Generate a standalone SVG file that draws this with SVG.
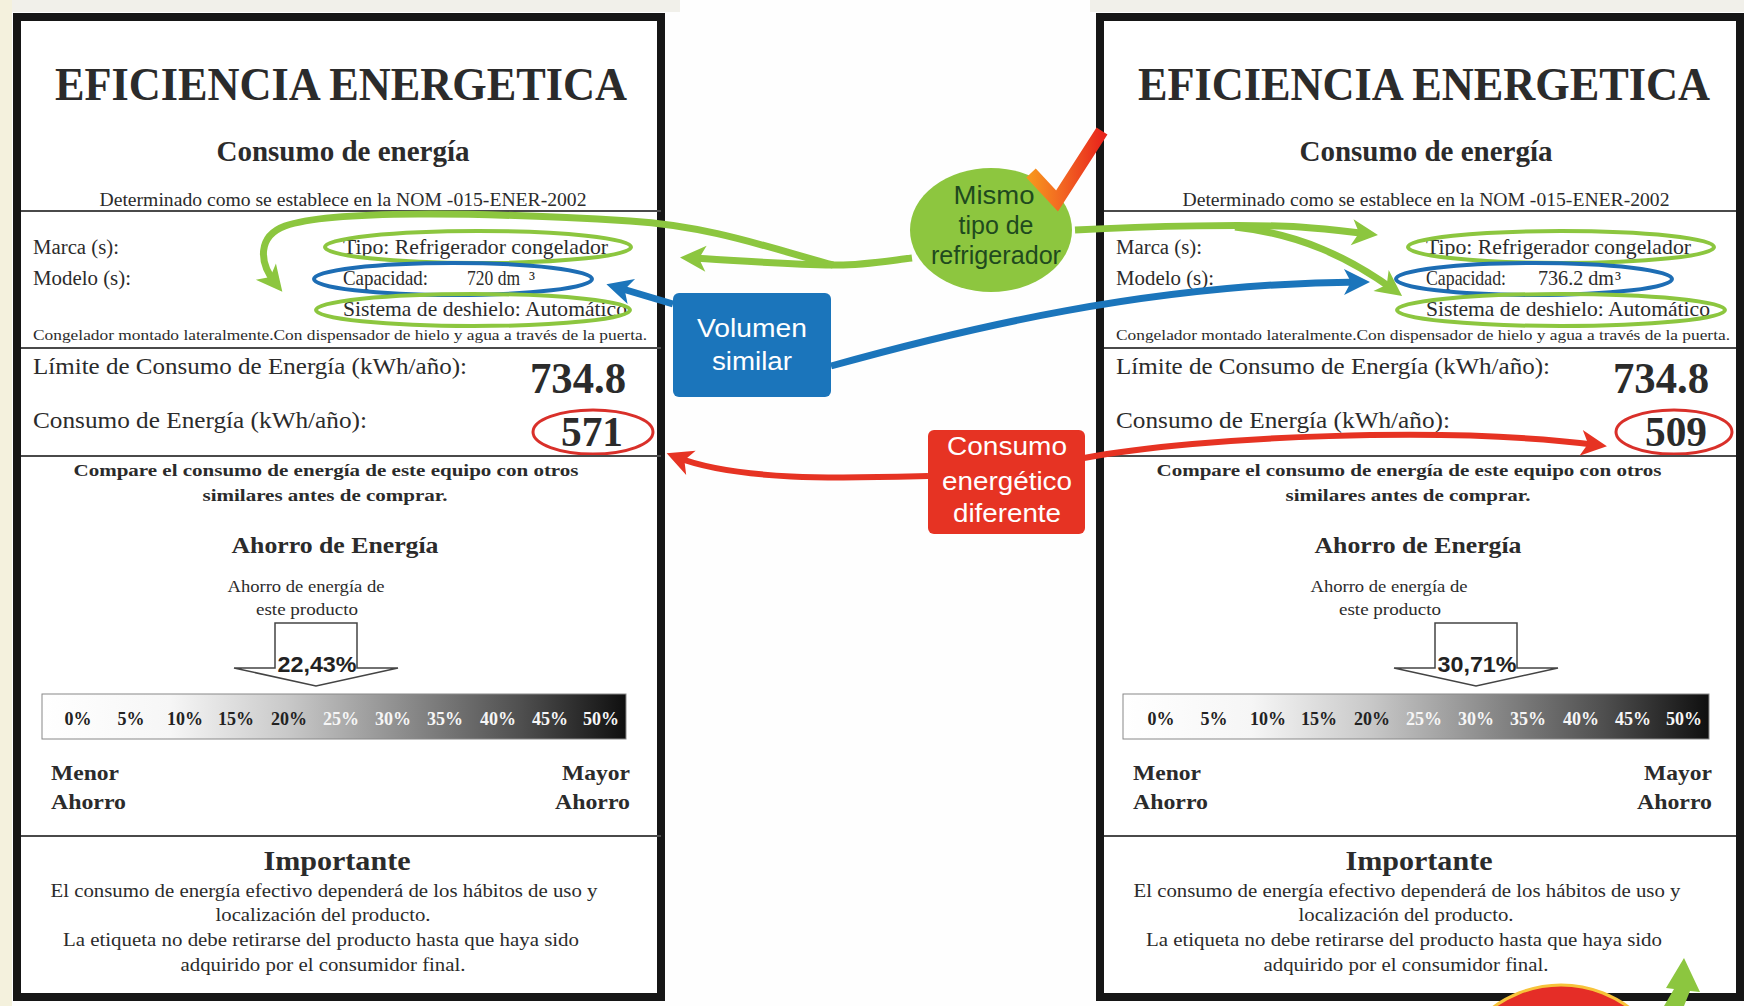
<svg xmlns="http://www.w3.org/2000/svg" width="1744" height="1006" viewBox="0 0 1744 1006">
<defs>
<style>
.frame{fill:#fff;stroke:#161616;stroke-width:8}
.sep{stroke:#4a4a4a;stroke-width:2}
.s{font-family:"Liberation Serif","Times New Roman",serif;fill:#2b2b2b}
.b{font-weight:bold}
.mid{text-anchor:middle}
.end{text-anchor:end}
.pct{font-family:"Liberation Serif","Times New Roman",serif;font-weight:bold;font-size:18px;text-anchor:middle}
.dk{fill:#222}
.wt{fill:#f6f6f6}
.eg{fill:none;stroke:#8cc63f;stroke-width:4}
.eb{fill:none;stroke:#1d6db4;stroke-width:4}
.er{fill:none;stroke:#d9302a;stroke-width:3}
.arrowbox{fill:#fff;stroke:#444;stroke-width:1.5}
.pv{font-family:"Liberation Sans",Arial,sans-serif;font-weight:bold;font-size:22px;fill:#222;text-anchor:middle}
.bar{stroke:#888;stroke-width:1}
.cg{fill:none;stroke:#8cc63f;stroke-width:7}
.cb{fill:none;stroke:#1b75bb;stroke-width:7}
.cr{fill:none;stroke:#e63323;stroke-width:6}
.co{font-family:"Liberation Sans",Arial,sans-serif;font-size:26px;text-anchor:middle}
</style>
<linearGradient id="gradBar" x1="0" y1="0" x2="1" y2="0">
<stop offset="0" stop-color="#ffffff"/>
<stop offset="0.22" stop-color="#f6f6f6"/>
<stop offset="0.42" stop-color="#c9c9c9"/>
<stop offset="0.62" stop-color="#8c8c8c"/>
<stop offset="0.82" stop-color="#4f4f4f"/>
<stop offset="1" stop-color="#0f0f0f"/>
</linearGradient>
<linearGradient id="gradCheck" x1="0" y1="0" x2="1" y2="0">
<stop offset="0" stop-color="#f7941d"/>
<stop offset="0.45" stop-color="#f26522"/>
<stop offset="1" stop-color="#e8261c"/>
</linearGradient>
<marker id="ahG" viewBox="-20 -15 32 30" refX="0" refY="0" markerWidth="32" markerHeight="30" markerUnits="userSpaceOnUse" orient="auto"><path d="M 10 0 L -16 -13 L -9 0 L -16 13 Z" fill="#8cc63f"/></marker>
<marker id="ahB" viewBox="-20 -15 32 30" refX="0" refY="0" markerWidth="32" markerHeight="30" markerUnits="userSpaceOnUse" orient="auto"><path d="M 10 0 L -16 -13 L -9 0 L -16 13 Z" fill="#1b75bb"/></marker>
<marker id="ahR" viewBox="-20 -15 32 30" refX="0" refY="0" markerWidth="32" markerHeight="30" markerUnits="userSpaceOnUse" orient="auto"><path d="M 10 0 L -16 -13 L -9 0 L -16 13 Z" fill="#e63323"/></marker>
</defs>

<rect x="0" y="0" width="1744" height="1006" fill="#fefefe"/>
<rect x="0" y="0" width="680" height="12" fill="#f1f0ea"/>
<rect x="1090" y="0" width="654" height="12" fill="#f1f0ea"/>
<rect x="0" y="0" width="12" height="1006" fill="#f4f1dd"/>

<g id="label-left">
<rect class="frame" x="17" y="17" width="644" height="980"/>
<text class="s b mid" x="341" y="100" font-size="46" textLength="572" lengthAdjust="spacingAndGlyphs">EFICIENCIA ENERGETICA</text>
<text class="s b mid" x="343" y="161" font-size="29" textLength="253" lengthAdjust="spacingAndGlyphs">Consumo de energía</text>
<text class="s mid" x="343" y="206" font-size="18" textLength="487" lengthAdjust="spacingAndGlyphs">Determinado como se establece en la NOM -015-ENER-2002</text>
<line class="sep" x1="21" y1="211" x2="661" y2="211"/>
<text class="s" x="33" y="254" font-size="20" textLength="86" lengthAdjust="spacingAndGlyphs">Marca (s):</text>
<text class="s" x="33" y="285" font-size="20" textLength="98" lengthAdjust="spacingAndGlyphs">Modelo (s):</text>
<text class="s" x="343" y="254" font-size="21" textLength="265" lengthAdjust="spacingAndGlyphs">Tipo: Refrigerador congelador</text>
<text class="s" x="343" y="285" font-size="21"><tspan textLength="85" lengthAdjust="spacingAndGlyphs">Capacidad:</tspan><tspan x="467" textLength="53" lengthAdjust="spacingAndGlyphs">720 dm</tspan><tspan x="529" font-size="20">³</tspan></text>
<text class="s" x="343" y="316" font-size="21" textLength="284" lengthAdjust="spacingAndGlyphs">Sistema de deshielo: Automático</text>
<ellipse class="eg" cx="478" cy="247" rx="153" ry="16"/>
<ellipse class="eb" cx="453" cy="279" rx="139" ry="16"/>
<ellipse class="eg" cx="473" cy="310" rx="157" ry="16"/>
<text class="s" x="33" y="340" font-size="15" textLength="614" lengthAdjust="spacingAndGlyphs">Congelador montado lateralmente.Con dispensador de hielo y agua a través de la puerta.</text>
<line class="sep" x1="21" y1="348" x2="661" y2="348"/>
<text class="s" x="33" y="374" font-size="23" textLength="434" lengthAdjust="spacingAndGlyphs">Límite de Consumo de Energía (kWh/año):</text>
<text class="s b end" x="626" y="393" font-size="44" textLength="96" lengthAdjust="spacingAndGlyphs">734.8</text>
<text class="s" x="33" y="428" font-size="23" textLength="334" lengthAdjust="spacingAndGlyphs">Consumo de Energía (kWh/año):</text>
<text class="s b end" x="623" y="446" font-size="42" textLength="62" lengthAdjust="spacingAndGlyphs">571</text>
<ellipse class="er" cx="593" cy="432" rx="60" ry="22"/>
<line class="sep" x1="21" y1="456" x2="661" y2="456"/>
<text class="s b mid" x="326" y="476" font-size="17" textLength="505" lengthAdjust="spacingAndGlyphs">Compare el consumo de energía de este equipo con otros</text>
<text class="s b mid" x="325" y="501" font-size="17" textLength="245" lengthAdjust="spacingAndGlyphs">similares antes de comprar.</text>
<text class="s b mid" x="335" y="553" font-size="23" textLength="207" lengthAdjust="spacingAndGlyphs">Ahorro de Energía</text>
<text class="s mid" x="306" y="592" font-size="16" textLength="157" lengthAdjust="spacingAndGlyphs">Ahorro de energía de</text>
<text class="s mid" x="307" y="615" font-size="16" textLength="102" lengthAdjust="spacingAndGlyphs">este producto</text>
<path class="arrowbox" d="M275,668 L275,623 L357,623 L357,668 L398,668 L316,686 L234,668 Z"/>
<text class="pv" x="317" y="672" textLength="79" lengthAdjust="spacingAndGlyphs">22,43%</text>
<rect class="bar" x="42" y="694" width="584" height="45" fill="url(#gradBar)"/>
<text class="pct dk" x="78" y="725">0%</text>
<text class="pct dk" x="131" y="725">5%</text>
<text class="pct dk" x="185" y="725">10%</text>
<text class="pct dk" x="236" y="725">15%</text>
<text class="pct dk" x="289" y="725">20%</text>
<text class="pct wt" x="341" y="725">25%</text>
<text class="pct wt" x="393" y="725">30%</text>
<text class="pct wt" x="445" y="725">35%</text>
<text class="pct wt" x="498" y="725">40%</text>
<text class="pct wt" x="550" y="725">45%</text>
<text class="pct wt" x="601" y="725">50%</text>
<text class="s b" x="51" y="780" font-size="22" textLength="68" lengthAdjust="spacingAndGlyphs">Menor</text>
<text class="s b" x="51" y="809" font-size="22" textLength="75" lengthAdjust="spacingAndGlyphs">Ahorro</text>
<text class="s b end" x="630" y="780" font-size="22" textLength="68" lengthAdjust="spacingAndGlyphs">Mayor</text>
<text class="s b end" x="630" y="809" font-size="22" textLength="75" lengthAdjust="spacingAndGlyphs">Ahorro</text>
<line class="sep" x1="21" y1="836" x2="661" y2="836"/>
<text class="s b mid" x="337" y="870" font-size="28" textLength="147" lengthAdjust="spacingAndGlyphs">Importante</text>
<text class="s mid" x="324" y="897" font-size="18" textLength="547" lengthAdjust="spacingAndGlyphs">El consumo de energía efectivo dependerá de los hábitos de uso y</text>
<text class="s mid" x="323" y="921" font-size="18" textLength="215" lengthAdjust="spacingAndGlyphs">localización del producto.</text>
<text class="s mid" x="321" y="946" font-size="18" textLength="516" lengthAdjust="spacingAndGlyphs">La etiqueta no debe retirarse del producto hasta que haya sido</text>
<text class="s mid" x="323" y="971" font-size="18" textLength="285" lengthAdjust="spacingAndGlyphs">adquirido por el consumidor final.</text>
</g>

<g id="label-right" transform="translate(1083,0)">
<rect class="frame" x="17" y="17" width="640" height="980"/>
<text class="s b mid" x="341" y="100" font-size="46" textLength="572" lengthAdjust="spacingAndGlyphs">EFICIENCIA ENERGETICA</text>
<text class="s b mid" x="343" y="161" font-size="29" textLength="253" lengthAdjust="spacingAndGlyphs">Consumo de energía</text>
<text class="s mid" x="343" y="206" font-size="18" textLength="487" lengthAdjust="spacingAndGlyphs">Determinado como se establece en la NOM -015-ENER-2002</text>
<line class="sep" x1="21" y1="211" x2="653" y2="211"/>
<text class="s" x="33" y="254" font-size="20" textLength="86" lengthAdjust="spacingAndGlyphs">Marca (s):</text>
<text class="s" x="33" y="285" font-size="20" textLength="98" lengthAdjust="spacingAndGlyphs">Modelo (s):</text>
<text class="s" x="343" y="254" font-size="21" textLength="265" lengthAdjust="spacingAndGlyphs">Tipo: Refrigerador congelador</text>
<text class="s" x="343" y="285" font-size="21"><tspan textLength="80" lengthAdjust="spacingAndGlyphs">Capacidad:</tspan><tspan x="455" textLength="76" lengthAdjust="spacingAndGlyphs">736.2 dm</tspan><tspan x="532" font-size="20">³</tspan></text>
<text class="s" x="343" y="316" font-size="21" textLength="284" lengthAdjust="spacingAndGlyphs">Sistema de deshielo: Automático</text>
<ellipse class="eg" cx="478" cy="247" rx="153" ry="16"/>
<ellipse class="eb" cx="451" cy="279" rx="138" ry="16"/>
<ellipse class="eg" cx="478" cy="310" rx="164" ry="16"/>
<text class="s" x="33" y="340" font-size="15" textLength="614" lengthAdjust="spacingAndGlyphs">Congelador montado lateralmente.Con dispensador de hielo y agua a través de la puerta.</text>
<line class="sep" x1="21" y1="348" x2="653" y2="348"/>
<text class="s" x="33" y="374" font-size="23" textLength="434" lengthAdjust="spacingAndGlyphs">Límite de Consumo de Energía (kWh/año):</text>
<text class="s b end" x="626" y="393" font-size="44" textLength="96" lengthAdjust="spacingAndGlyphs">734.8</text>
<text class="s" x="33" y="428" font-size="23" textLength="334" lengthAdjust="spacingAndGlyphs">Consumo de Energía (kWh/año):</text>
<text class="s b end" x="624" y="446" font-size="42" textLength="62" lengthAdjust="spacingAndGlyphs">509</text>
<ellipse class="er" cx="591" cy="432" rx="58" ry="22"/>
<line class="sep" x1="21" y1="456" x2="653" y2="456"/>
<text class="s b mid" x="326" y="476" font-size="17" textLength="505" lengthAdjust="spacingAndGlyphs">Compare el consumo de energía de este equipo con otros</text>
<text class="s b mid" x="325" y="501" font-size="17" textLength="245" lengthAdjust="spacingAndGlyphs">similares antes de comprar.</text>
<text class="s b mid" x="335" y="553" font-size="23" textLength="207" lengthAdjust="spacingAndGlyphs">Ahorro de Energía</text>
<text class="s mid" x="306" y="592" font-size="16" textLength="157" lengthAdjust="spacingAndGlyphs">Ahorro de energía de</text>
<text class="s mid" x="307" y="615" font-size="16" textLength="102" lengthAdjust="spacingAndGlyphs">este producto</text>
<path class="arrowbox" d="M352,668 L352,623 L434,623 L434,668 L475,668 L393,686 L311,668 Z"/>
<text class="pv" x="394" y="672" textLength="79" lengthAdjust="spacingAndGlyphs">30,71%</text>
<rect class="bar" x="40" y="694" width="586" height="45" fill="url(#gradBar)"/>
<text class="pct dk" x="78" y="725">0%</text>
<text class="pct dk" x="131" y="725">5%</text>
<text class="pct dk" x="185" y="725">10%</text>
<text class="pct dk" x="236" y="725">15%</text>
<text class="pct dk" x="289" y="725">20%</text>
<text class="pct wt" x="341" y="725">25%</text>
<text class="pct wt" x="393" y="725">30%</text>
<text class="pct wt" x="445" y="725">35%</text>
<text class="pct wt" x="498" y="725">40%</text>
<text class="pct wt" x="550" y="725">45%</text>
<text class="pct wt" x="601" y="725">50%</text>
<text class="s b" x="50" y="780" font-size="22" textLength="68" lengthAdjust="spacingAndGlyphs">Menor</text>
<text class="s b" x="50" y="809" font-size="22" textLength="75" lengthAdjust="spacingAndGlyphs">Ahorro</text>
<text class="s b end" x="629" y="780" font-size="22" textLength="68" lengthAdjust="spacingAndGlyphs">Mayor</text>
<text class="s b end" x="629" y="809" font-size="22" textLength="75" lengthAdjust="spacingAndGlyphs">Ahorro</text>
<line class="sep" x1="21" y1="836" x2="653" y2="836"/>
<text class="s b mid" x="336" y="870" font-size="28" textLength="147" lengthAdjust="spacingAndGlyphs">Importante</text>
<text class="s mid" x="324" y="897" font-size="18" textLength="547" lengthAdjust="spacingAndGlyphs">El consumo de energía efectivo dependerá de los hábitos de uso y</text>
<text class="s mid" x="323" y="921" font-size="18" textLength="215" lengthAdjust="spacingAndGlyphs">localización del producto.</text>
<text class="s mid" x="321" y="946" font-size="18" textLength="516" lengthAdjust="spacingAndGlyphs">La etiqueta no debe retirarse del producto hasta que haya sido</text>
<text class="s mid" x="323" y="971" font-size="18" textLength="285" lengthAdjust="spacingAndGlyphs">adquirido por el consumidor final.</text>
</g>

<g id="connectors">
<path class="cg" d="M 912 258 C 880 262 855 266 833 265 C 780 264 730 260 690 258" marker-end="url(#ahG)"/>
<path class="cg" d="M 833 265 C 770 248 710 226 630 221 C 480 212 330 210 285 226 C 258 236 258 262 276 284" marker-end="url(#ahG)"/>
<path class="cg" d="M 1075 230 C 1150 226 1250 224 1300 227 C 1330 229 1350 232 1368 234" marker-end="url(#ahG)"/>
<path class="cg" d="M 1235 227 C 1300 234 1350 258 1394 290" marker-end="url(#ahG)"/>
<path class="cb" d="M 673 304 L 616 287" marker-end="url(#ahB)"/>
<path class="cb" d="M 831 366 C 960 330 1150 283 1360 282" marker-end="url(#ahB)"/>
<path class="cr" d="M 928 476 C 850 478 740 482 676 457" marker-end="url(#ahR)"/>
<path class="cr" d="M 1084 458 C 1200 436 1450 426 1597 445" marker-end="url(#ahR)"/>
</g>

<g id="callout-mismo">
<ellipse cx="991" cy="230" rx="81" ry="62" fill="#8dc63f"/>
<text class="co" x="994" y="204" fill="#1f4a1e" textLength="81" lengthAdjust="spacingAndGlyphs">Mismo</text>
<text class="co" x="996" y="234" fill="#1f4a1e" textLength="75" lengthAdjust="spacingAndGlyphs">tipo de</text>
<text class="co" x="996" y="264" fill="#1f4a1e" textLength="130" lengthAdjust="spacingAndGlyphs">refrigerador</text>
<polyline points="1031,173 1057,201 1102,131" fill="none" stroke="url(#gradCheck)" stroke-width="13" stroke-linejoin="miter"/>
</g>

<g id="callout-volumen">
<rect x="673" y="293" width="158" height="104" rx="6" fill="#1b75bb"/>
<text class="co" x="752" y="337" fill="#fff" textLength="110" lengthAdjust="spacingAndGlyphs">Volumen</text>
<text class="co" x="752" y="370" fill="#fff" textLength="80" lengthAdjust="spacingAndGlyphs">similar</text>
</g>

<g id="callout-consumo">
<rect x="928" y="430" width="157" height="104" rx="6" fill="#e63323"/>
<text class="co" x="1007" y="455" fill="#fff" textLength="120" lengthAdjust="spacingAndGlyphs">Consumo</text>
<text class="co" x="1007" y="490" fill="#fff" textLength="130" lengthAdjust="spacingAndGlyphs">energético</text>
<text class="co" x="1007" y="522" fill="#fff" textLength="108" lengthAdjust="spacingAndGlyphs">diferente</text>
</g>

<g id="deco">
<circle cx="1561" cy="1099" r="114" fill="#e52d27" stroke="#f7c33a" stroke-width="3"/>
<polygon points="1684,958 1700,992 1690,991 1684,1006 1664,1006 1674,989 1666,988" fill="#8cc63f"/>
</g>
</svg>
